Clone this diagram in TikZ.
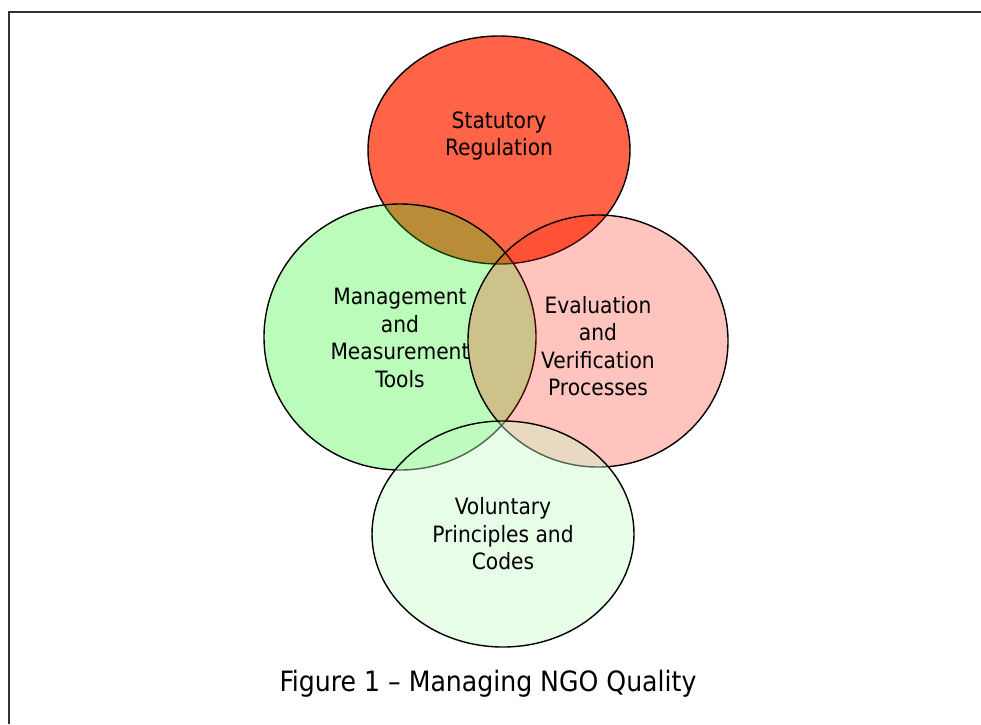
\documentclass[tikz,border=0pt]{standalone}
\usepackage{fontspec}
\setmainfont{DejaVu Sans Condensed}
\definecolor{statred}{RGB}{255,100,72}
\definecolor{mgmtgreen}{RGB}{12,244,12}
\definecolor{evalred}{RGB}{255,28,0}
\definecolor{volgreen}{RGB}{197,250,197}

\begin{document}
\begin{tikzpicture}[x=1pt,y=-1pt,
    ring/.style={draw=black,line width=1.4pt},
    lbl/.style={align=center,font=\fontsize{22.5}{27.5}\selectfont}]
    % Fix the page size
    \useasboundingbox (0,0) rectangle (981,724);

    % Define centres
    \coordinate (S) at (499,150);
    \coordinate (M) at (400,337);
    \coordinate (E) at (598,341);
    \coordinate (V) at (503,534);

    % Draw the frame
    \draw [line width=1.5pt, black!80] (9,724) -- (9,12) -- (981,12);

    % Draw the circles
    \draw [ring, fill=statred] (S) ellipse [x radius=131, y radius=114];
    \draw [ring, fill=mgmtgreen, fill opacity=0.28] (M) ellipse [x radius=136, y radius=133];
    \draw [ring, fill=evalred, fill opacity=0.26] (E) ellipse [x radius=130, y radius=126];
    \draw [ring, fill=volgreen, fill opacity=0.4] (V) ellipse [x radius=131, y radius=113];

    % Label circles
    \node [lbl] (stat) at (499,136) {Statutory\\Regulation};
    \node [lbl] (mgmt) at (400,338) {Management\\and\\Measurement\\Tools};
    \node [lbl] (eval) at (598,346) {Evaluation\\and\\Verification\\Processes};
    \node [lbl] (vol) at (503,534) {Voluntary\\Principles and\\Codes};

    % Caption
    \node [font=\fontsize{28}{32}\selectfont] (cap) at (488,684) {Figure 1 – Managing NGO Quality};
\end{tikzpicture}
\end{document}
